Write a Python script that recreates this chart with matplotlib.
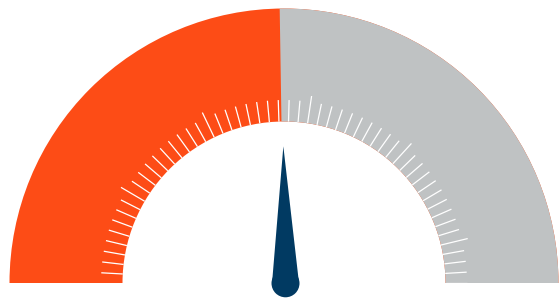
#!/usr/bin/env python3

import numpy as np
from matplotlib import pyplot as plt
import matplotlib.patches as patches

# gauge data
VALUE = 49.5
V_MIN = 0
V_MAX = 100
N_TICKS = 53          # minor ticks along the inner rim
TICK_STEP = 3.4       # degrees between ticks
MAJOR_EVERY = 10
MAJOR_OFFSET = 4

CLR_FILL = '#FD4C16'
CLR_REST = '#BFC2C3'
CLR_NEEDLE = '#013A62'

CX, CY = 284, 15
R_OUT = 274.5
R_IN = 161.5
NX, NY = 285.5, 14.7   # needle pivot


def val2ang(v):
    return 180.0 * (1 - (v - V_MIN) / (V_MAX - V_MIN))


fig = plt.figure(figsize=(5.6, 2.98), dpi=100)
ax = fig.add_axes([0, 0, 1, 1])
ax.set_xlim(0, 560)
ax.set_ylim(0, 298)
ax.set_aspect('equal')
ax.axis('off')

ang = val2ang(VALUE)

# background band is the filled colour, rest is drawn over it
ax.add_patch(patches.Wedge((CX, CY), R_OUT, 0, 180, width=R_OUT - R_IN,
                           facecolor=CLR_FILL, edgecolor='none'))
ax.add_patch(patches.Wedge((CX, CY), R_OUT, 0, ang, width=R_OUT - R_IN,
                           facecolor=CLR_REST, edgecolor='none'))

# ticks
for k in range(N_TICKS):
    a = np.deg2rad(k * TICK_STEP)
    r1 = 189 if k % MAJOR_EVERY == MAJOR_OFFSET else 183
    ax.plot([CX + R_IN * np.cos(a), CX + r1 * np.cos(a)],
            [CY + R_IN * np.sin(a), CY + r1 * np.sin(a)],
            color='white', lw=0.9, solid_capstyle='butt')

# needle
a = np.deg2rad(ang)
L, hw = 137, 13.5
tip = (NX + L * np.cos(a), NY + L * np.sin(a))
p1 = (NX + hw * np.cos(a + np.pi / 2), NY + hw * np.sin(a + np.pi / 2))
p2 = (NX + hw * np.cos(a - np.pi / 2), NY + hw * np.sin(a - np.pi / 2))
ax.add_patch(patches.Polygon([tip, p1, p2], closed=True,
                             facecolor=CLR_NEEDLE, edgecolor='none', zorder=5))
ax.add_patch(patches.Circle((NX, NY), 14, facecolor=CLR_NEEDLE,
                            edgecolor='none', zorder=5))

plt.savefig('out.png', dpi=100)
